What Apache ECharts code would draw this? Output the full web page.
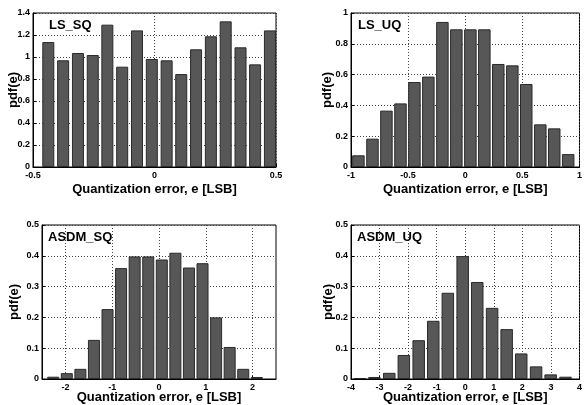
<!DOCTYPE html>
<html><head><meta charset="utf-8">
<script src="https://cdn.jsdelivr.net/npm/echarts@6/dist/echarts.min.js"></script>
<style>html,body{margin:0;padding:0;background:#fff}#c{width:585px;height:405px}</style>
</head><body><div id="c"></div><script>
// LS_SQ
const lsSqCenters = [-0.437, -0.376, -0.315, -0.254, -0.194, -0.133, -0.072, -0.011, 0.050, 0.110, 0.171, 0.232, 0.293, 0.354, 0.414, 0.475];
const lsSqValues  = [1.136, 0.970, 1.036, 1.018, 1.294, 0.912, 1.242, 0.982, 0.970, 0.845, 1.070, 1.188, 1.324, 1.088, 0.933, 1.242];
// LS_UQ
const lsUqCenters = [-0.935, -0.812, -0.690, -0.567, -0.445, -0.323, -0.200, -0.078, 0.045, 0.167, 0.289, 0.412, 0.534, 0.657, 0.779, 0.901];
const lsUqValues  = [0.076, 0.184, 0.366, 0.413, 0.552, 0.587, 0.942, 0.894, 0.894, 0.894, 0.669, 0.660, 0.539, 0.277, 0.251, 0.084];
// ASDM_SQ
const asdmSqCenters = [-2.26, -1.97, -1.68, -1.39, -1.10, -0.81, -0.52, -0.23, 0.06, 0.35, 0.64, 0.93, 1.22, 1.51, 1.80, 2.09];
const asdmSqValues  = [0.0075, 0.019, 0.033, 0.127, 0.227, 0.360, 0.398, 0.398, 0.388, 0.410, 0.362, 0.376, 0.200, 0.104, 0.033, 0.0065];
// ASDM_UQ
const asdmUqCenters = [-3.69, -3.18, -2.66, -2.15, -1.63, -1.12, -0.61, -0.09, 0.42, 0.94, 1.45, 1.96, 2.48, 2.99, 3.51];
const asdmUqValues  = [0.003, 0.0065, 0.020, 0.078, 0.126, 0.189, 0.280, 0.399, 0.315, 0.231, 0.162, 0.083, 0.041, 0.015, 0.0075];
// tick labels
const asdmSqXTicks = [-2, -1, 0, 1, 2];

const panelTitles = ['LS_SQ', 'LS_UQ', 'ASDM_SQ', 'ASDM_UQ'];
const xTitle = 'Quantization error, e [LSB]';
const yTitle = 'pdf(e)';

const zip = (xs, ys) => xs.map((x, i) => [x, ys[i]]);

const FONT = 'Liberation Sans, Arial, sans-serif';
const tickLabel = { color: '#000', fontSize: 9, fontWeight: 'bold', fontFamily: FONT };
const gridLine = { show: true, lineStyle: { color: '#444', type: [1, 2], width: 1 } };
const nameStyle = { color: '#000', fontSize: 13, fontWeight: 'bold', fontFamily: FONT };

function xAxis(gi, min, max, interval, nameGap, extra) {
  const ax = {
    type: 'value', gridIndex: gi, min, max, interval,
    name: xTitle, nameLocation: 'middle', nameGap, nameMoveOverlap: false,
    nameTextStyle: nameStyle,
    axisLine: { show: true, onZero: false, lineStyle: { color: '#000', width: 1 } },
    axisTick: { show: true, inside: true, length: 3, lineStyle: { color: '#000' } },
    axisLabel: Object.assign({ margin: 4, showMinLabel: true, showMaxLabel: true }, tickLabel),
    splitLine: gridLine
  };
  return Object.assign(ax, extra || {});
}
function yAxis(gi, max, interval, nameGap) {
  return {
    type: 'value', gridIndex: gi, min: 0, max, interval,
    name: yTitle, nameLocation: 'middle', nameGap, nameMoveOverlap: false,
    nameTextStyle: nameStyle,
    axisLine: { show: true, onZero: false, lineStyle: { color: '#000', width: 1 } },
    axisTick: { show: true, inside: true, length: 3, lineStyle: { color: '#000' } },
    axisLabel: Object.assign({ margin: 3 }, tickLabel),
    splitLine: gridLine
  };
}
function bars(i, data, bw) {
  return {
    type: 'bar', xAxisIndex: i, yAxisIndex: i, data, barWidth: bw,
    itemStyle: { color: '#575757', borderColor: '#2a2a2a', borderWidth: 1 },
    silent: true, animation: false
  };
}

const chart = echarts.init(document.getElementById('c'), null, { renderer: 'canvas' });
chart.setOption({
  backgroundColor: '#fff',
  animation: false,
  grid: [
    { left: 33, top: 13, width: 243, height: 154, show: true, borderColor: '#000', borderWidth: 1, backgroundColor: 'transparent' },
    { left: 351, top: 13, width: 236, height: 154, show: true, borderColor: '#000', borderWidth: 1, backgroundColor: 'transparent' },
    { left: 42, top: 225, width: 234, height: 155, show: true, borderColor: '#000', borderWidth: 1, backgroundColor: 'transparent' },
    { left: 351, top: 225, width: 235, height: 155, show: true, borderColor: '#000', borderWidth: 1, backgroundColor: 'transparent' }
  ],
  title: panelTitles.map((t, i) => ({
    text: t,
    left: [49, 358, 48, 357][i],
    top: [19, 19, 231, 231][i],
    textStyle: { color: '#000', fontSize: 13, fontWeight: 'bold', fontFamily: FONT },
    padding: 0
  })),
  xAxis: [
    xAxis(0, -0.5, 0.5, 0.5, 16),
    xAxis(1, -1, 1, 0.5, 16),
    xAxis(2, -2.5, 2.5, 0.5, 12, {
      axisLabel: Object.assign({ margin: 4, customValues: asdmSqXTicks }, tickLabel),
      axisTick: { show: true, inside: true, length: 3, lineStyle: { color: '#000' }, customValues: asdmSqXTicks }
    }),
    xAxis(3, -4, 4, 1, 12)
  ],
  yAxis: [
    yAxis(0, 1.4, 0.2, 13),
    yAxis(1, 1, 0.2, 17),
    yAxis(2, 0.5, 0.1, 21),
    yAxis(3, 0.5, 0.1, 16)
  ],
  series: [
    bars(0, zip(lsSqCenters, lsSqValues), 12),
    bars(1, zip(lsUqCenters, lsUqValues), 12.5),
    bars(2, zip(asdmSqCenters, asdmSqValues), 12),
    bars(3, zip(asdmUqCenters, asdmUqValues), 12.5)
  ]
});
</script></body></html>
